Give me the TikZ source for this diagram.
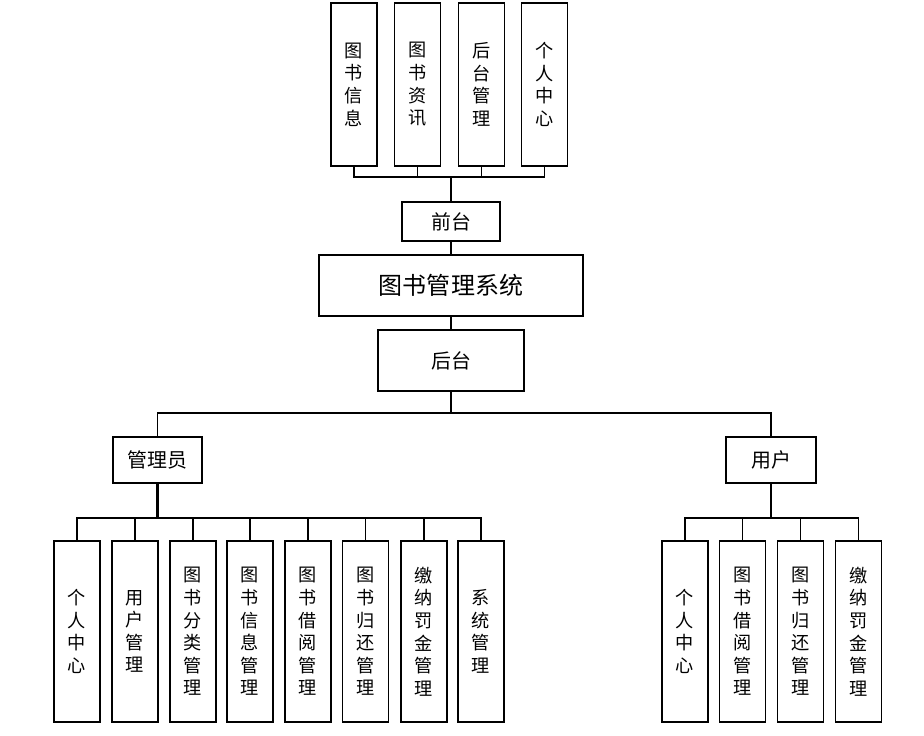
\documentclass[tikz,border=0pt]{standalone}
\usepackage{fontspec}
\newfontfamily\cjk{Noto Sans CJK SC}
\usetikzlibrary{backgrounds}
\pgfdeclarelayer{edgelayer}
\pgfdeclarelayer{nodelayer}
\pgfsetlayers{edgelayer,nodelayer,main}
\tikzset{font=\cjk}
\tikzstyle{none}=[inner sep=0pt]
\tikzstyle{vbox}=[draw,line width=1.3pt,inner sep=0pt,align=center,minimum width=1.38cm,font=\cjk\fontsize{15.5}{19.3}\selectfont]
\tikzstyle{hbox}=[draw,line width=1.3pt,inner sep=0pt,align=center,minimum height=1.38cm,font=\cjk\fontsize{17}{20}\selectfont]
\tikzstyle{edge}=[line width=1.2pt]

\begin{document}
\begin{tikzpicture}[x=0.03cm,y=-0.03cm]
	\useasboundingbox (0,0) rectangle (924,736);
	\begin{pgfonlayer}{nodelayer}
		\node [style=vbox, minimum height=4.89cm] (0) at (354, 84.5) {图\\书\\信\\息};
		\node [style=vbox, minimum height=4.89cm] (1) at (417.5, 84.5) {图\\书\\资\\讯};
		\node [style=vbox, minimum height=4.89cm] (2) at (481.5, 84.5) {后\\台\\管\\理};
		\node [style=vbox, minimum height=4.89cm] (3) at (544.5, 84.5) {个\\人\\中\\心};
		\node [style=hbox, minimum width=2.94cm, minimum height=1.17cm] (4) at (451, 221.5) {前台};
		\node [style=hbox, minimum width=7.92cm, minimum height=1.83cm, font=\cjk\fontsize{20.5}{24}\selectfont] (5) at (451, 285.5) {图书管理系统};
		\node [style=hbox, minimum width=4.38cm, minimum height=1.83cm] (6) at (451, 360.5) {后台};
		\node [style=hbox, minimum width=2.67cm] (7) at (157.5, 460) {管理员};
		\node [style=hbox, minimum width=2.7cm] (8) at (771, 460) {用户};
		\node [style=vbox, minimum height=5.43cm] (9) at (77, 631.5) {个\\人\\中\\心};
		\node [style=vbox, minimum height=5.43cm] (10) at (135, 631.5) {用\\户\\管\\理};
		\node [style=vbox, minimum height=5.43cm] (11) at (193, 631.5) {图\\书\\分\\类\\管\\理};
		\node [style=vbox, minimum height=5.43cm] (12) at (250, 631.5) {图\\书\\信\\息\\管\\理};
		\node [style=vbox, minimum height=5.43cm] (13) at (308, 631.5) {图\\书\\借\\阅\\管\\理};
		\node [style=vbox, minimum height=5.43cm] (14) at (365.5, 631.5) {图\\书\\归\\还\\管\\理};
		\node [style=vbox, minimum height=5.43cm] (15) at (424, 631.5) {缴\\纳\\罚\\金\\管\\理};
		\node [style=vbox, minimum height=5.43cm] (16) at (481, 631.5) {系\\统\\管\\理};
		\node [style=vbox, minimum height=5.43cm] (17) at (685, 631.5) {个\\人\\中\\心};
		\node [style=vbox, minimum height=5.43cm] (18) at (742.5, 631.5) {图\\书\\借\\阅\\管\\理};
		\node [style=vbox, minimum height=5.43cm] (19) at (800.5, 631.5) {图\\书\\归\\还\\管\\理};
		\node [style=vbox, minimum height=5.43cm] (20) at (858.5, 631.5) {缴\\纳\\罚\\金\\管\\理};
		\coordinate (21) at (451, 177);
		\coordinate (22) at (451, 413);
		\coordinate (23) at (157.5, 518);
		\coordinate (24) at (771, 518);
	\end{pgfonlayer}
	\begin{pgfonlayer}{edgelayer}
		\foreach \i in {0,...,3}
			\draw [style=edge] (\i.south) |- (21);
		\draw [style=edge, line width=1.6pt] (21) to (4.north);
		\draw [style=edge] (4.south) to (5.north);
		\draw [style=edge] (5.south) to (6.north);
		\draw [style=edge] (6.south) to (22);
		\draw [style=edge] (7.north) |- (22);
		\draw [style=edge] (8.north) |- (22);
		\draw [style=edge, line width=2pt] (7.south) to (23);
		\foreach \i in {9,...,16}
			\draw [style=edge] (\i.north) |- (23);
		\draw [style=edge, line width=1.6pt] (8.south) to (24);
		\foreach \i in {17,...,20}
			\draw [style=edge] (\i.north) |- (24);
	\end{pgfonlayer}
\end{tikzpicture}
\end{document}
